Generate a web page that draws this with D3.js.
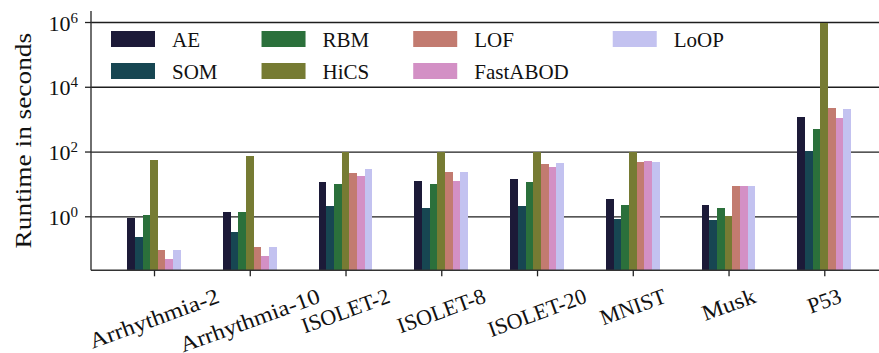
<!DOCTYPE html>
<html>
<head>
<meta charset="utf-8">
<script src="https://cdn.jsdelivr.net/npm/d3@7"></script>
<style>
  html, body { margin: 0; padding: 0; background: #fff; }
  svg { display: block; font-family: "Liberation Serif", "Times New Roman", serif; }
  svg text { font-family: "Liberation Serif", "Times New Roman", serif; }
</style>
</head>
<body>
<svg id="chart" width="879" height="353"></svg>
<script>
// ---- data ----
const categories = ["Arrhythmia-2", "Arrhythmia-10", "ISOLET-2", "ISOLET-8", "ISOLET-20", "MNIST", "Musk", "P53"];
const methods = ["AE", "SOM", "RBM", "HiCS", "LOF", "FastABOD", "LoOP"];
const AE       = [0.89, 1.35, 11.5, 12.3, 14, 3.4, 2.2, 1150];
const SOM      = [0.23, 0.33, 2.1, 1.8, 2.1, 0.83, 0.77, 104];
const RBM      = [1.1, 1.35, 10, 10, 11.5, 2.2, 1.8, 490];
const HiCS     = [55, 72, 95, 95, 95, 95, 1.0, 930000];
const LOF      = [0.091, 0.11, 22, 23, 41, 48, 8.6, 2200];
const FastABOD = [0.048, 0.059, 17.5, 12.3, 33, 51, 8.6, 1080];
const LoOP     = [0.091, 0.11, 29, 23, 44, 48, 8.6, 2050];
const yTickValues = [1, 1e2, 1e4, 1e6];
const yTickExponents = ["0", "2", "4", "6"];
const yLabel = "Runtime in seconds";

const seriesValues = [AE, SOM, RBM, HiCS, LOF, FastABOD, LoOP];
const colors = ["#1c1a38", "#174652", "#2b703b", "#767b33", "#c27b70", "#d390c5", "#c3c2f0"];

(function () {
// ---- layout ----
const pLeft = 91, pRight = 887.3, pTop = 11, pBottom = 270.3;
const barW = 0.08;
const nSeries = methods.length;
const half = barW * nSeries / 2;
const pad = 0.05 * ((categories.length - 1) + 2 * half);

// widen lowercase glyphs a little (reference face has wider lowercase than Times)
function stretchLower(t, k) {
  const node = t.node();
  const s = node.textContent;
  let extra = 0;
  for (let j = 0; j < s.length; j++) {
    if (/[a-z]/.test(s[j])) extra += node.getSubStringLength(j, 1) * (k - 1);
  }
  const w = node.getComputedTextLength() + extra;
  t.attr("textLength", w).attr("lengthAdjust", "spacingAndGlyphs");
  return w;
}

const svg = d3.select("#chart");
svg.append("rect").attr("width", 879).attr("height", 353).attr("fill", "#fff");

const x = d3.scaleLinear()
  .domain([-half - pad, categories.length - 1 + half + pad])
  .range([pLeft, pRight]);
const y = d3.scaleLog()
  .domain([Math.pow(10, -1.668), Math.pow(10, 6.34)])
  .range([pBottom, pTop]);

// gridlines
const grid = svg.append("g").attr("transform", `translate(${pLeft},0)`)
  .call(d3.axisLeft(y).tickValues(yTickValues).tickSize(-(pRight - pLeft)).tickFormat(""));
grid.select(".domain").remove();
grid.selectAll("line").attr("stroke", "#1e1e1e").attr("stroke-width", 1.3);

// bars
const bars = svg.append("g");
seriesValues.forEach((vals, s) => {
  bars.selectAll(null)
    .data(vals.map((v, i) => ({ v, i })))
    .enter().append("rect")
    .attr("x", d => x(d.i - half + s * barW))
    .attr("width", d => x(d.i - half + (s + 1) * barW) - x(d.i - half + s * barW))
    .attr("y", d => y(d.v))
    .attr("height", d => pBottom - y(d.v))
    .attr("fill", colors[s])
    .attr("shape-rendering", "crispEdges");
});

// y axis
const yAxis = svg.append("g").attr("transform", `translate(${pLeft},0)`)
  .call(d3.axisLeft(y).tickValues(yTickValues).tickSize(6).tickFormat(""));
yAxis.select(".domain").attr("stroke", "#333").attr("stroke-width", 1.4)
  .attr("d", `M0,${pTop}V${pBottom}`);
yAxis.selectAll(".tick line").attr("stroke", "#222").attr("stroke-width", 1.3);
yAxis.selectAll(".tick").each(function (d, i) {
  const t = d3.select(this).append("text")
    .attr("x", -13).attr("y", 8)
    .attr("text-anchor", "end")
    .attr("fill", "#111")
    .style("font-size", "22px");
  t.append("tspan").text("10");
  t.append("tspan").text(yTickExponents[i]).attr("dy", -8).style("font-size", "15px");
});

// x axis
const xAxis = svg.append("g").attr("transform", `translate(0,${pBottom})`)
  .call(d3.axisBottom(x).tickValues(d3.range(categories.length)).tickSize(6).tickFormat(""));
xAxis.select(".domain").attr("stroke", "#333").attr("stroke-width", 1.4)
  .attr("d", `M${pLeft},0H${pRight}`);
xAxis.selectAll(".tick line").attr("stroke", "#222").attr("stroke-width", 1.3);

const ang = 20 * Math.PI / 180;
const labelTop = pBottom + 13;
categories.forEach((c, i) => {
  const t = svg.append("text").text(c)
    .attr("fill", "#111")
    .style("font-size", "22px");
  const bb = t.node().getBBox();
  const w = stretchLower(t, 1.18);
  const cx = w / 2, cy = bb.y + bb.height / 2;
  const rotH = w * Math.sin(ang) + bb.height * Math.cos(ang);
  t.attr("transform",
    `translate(${x(i)},${labelTop + rotH / 2}) rotate(-20) translate(${-cx},${-cy})`);
});

// y label
const yl = svg.append("text")
  .attr("transform", `translate(31,${(pTop + pBottom) / 2}) rotate(-90)`)
  .attr("text-anchor", "middle")
  .attr("fill", "#111")
  .style("font-size", "23px")
  .text(yLabel);
stretchLower(yl, 1.22);

// legend (4 columns, column-major)
const legend = svg.append("g");
const handleW = 44, handleH = 16, textGap = 17, colSpacing = 44;
const rowBase = [47, 79];
let colX = 111;
const nCols = 4;
for (let c = 0; c < nCols; c++) {
  let maxW = 0;
  for (let r = 0; r < 2; r++) {
    const k = c * 2 + r;
    if (k >= methods.length) continue;
    legend.append("rect")
      .attr("x", colX).attr("y", rowBase[r] - handleH)
      .attr("width", handleW).attr("height", handleH)
      .attr("fill", colors[k]);
    const t = legend.append("text")
      .attr("x", colX + handleW + textGap).attr("y", rowBase[r])
      .attr("fill", "#111")
      .style("font-size", "21px")
      .text(methods[k]);
    maxW = Math.max(maxW, t.node().getComputedTextLength());
  }
  colX += handleW + textGap + maxW + colSpacing;
}
})();
</script>
</body>
</html>
